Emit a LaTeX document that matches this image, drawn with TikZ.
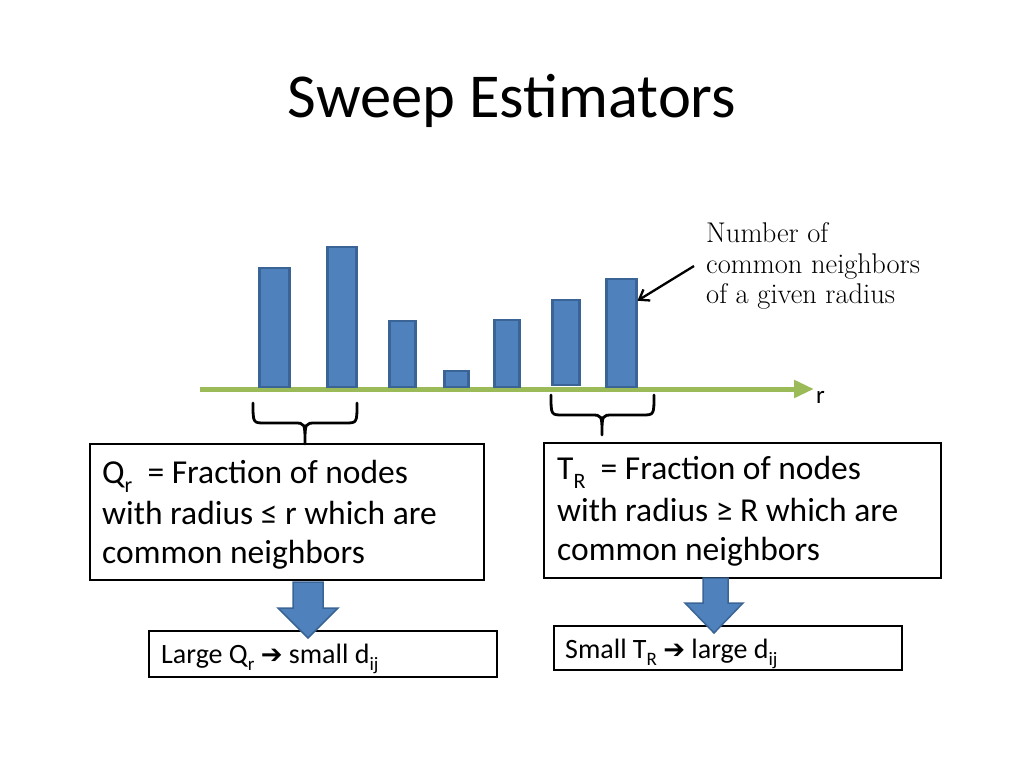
\documentclass[tikz,border=0pt]{standalone}
\usepackage{fontspec}
\setmainfont{Carlito}
\newfontfamily\annfont{Latin Modern Roman}
\newfontfamily\symfont{DejaVu Sans}
\usetikzlibrary{arrows.meta,calc}
\definecolor{barfill}{HTML}{4F81BD}
\definecolor{barline}{HTML}{3A6496}
\definecolor{axisgreen}{HTML}{9BBB59}
\newcommand{\lowsub}[1]{\raisebox{-0.28em}{\fontsize{22}{22}\selectfont #1}}
\newcommand{\smlsub}[1]{\raisebox{-0.28em}{\fontsize{19}{19}\selectfont #1}}
\begin{document}
\begin{tikzpicture}[x=1pt,y=-1pt,
  bar/.style={draw=barline, fill=barfill, line width=2.5pt, inner sep=0pt, anchor=south west},
  box/.style={draw=black, line width=2.5pt, inner sep=0pt},
  boxtext/.style={anchor=base west, inner sep=0pt, font=\fontsize{33.5}{40}\selectfont},
  smalltext/.style={anchor=base west, inner sep=0pt, font=\fontsize{28}{30}\selectfont},
  anntext/.style={anchor=base west, inner sep=0pt, font=\annfont\fontsize{28.5}{31}\selectfont},
  blockarrow/.style={draw=barline, fill=barfill, line width=1.5pt, line join=miter},
  brace/.style={draw=black, line width=2.8pt, line cap=round}]
\useasboundingbox (0,0) rectangle (1024,768);

% title
\node[anchor=base, inner sep=0pt, font=\fontsize{62.5}{62.5}\selectfont] (title) at (512,117) {Sweep Estimators};

% axis
\coordinate (ax0) at (200,389);
\coordinate (ax1) at (814,389);
\draw[axisgreen, line width=5pt, -{Triangle[length=20pt,width=17pt]}] (ax0) -- (ax1);
\node[anchor=base west, inner sep=0pt, font=\fontsize{25}{25}\selectfont] (rlab) at (816,403) {r};

% bars
\node[bar, minimum width=30pt, minimum height=119pt] (b1) at (258,388) {};
\node[bar, minimum width=29pt, minimum height=140pt] (b2) at (326,388) {};
\node[bar, minimum width=26pt, minimum height=66pt] (b3) at (388,388) {};
\node[bar, minimum width=24pt, minimum height=16pt] (b4) at (443,388) {};
\node[bar, minimum width=25pt, minimum height=67pt] (b5) at (493,388) {};
\node[bar, minimum width=27pt, minimum height=85pt] (b6) at (551,386) {};
\node[bar, minimum width=30pt, minimum height=108pt] (b7) at (605,388) {};

% annotation
\node[anntext] (ann1) at (706,242) {Number of};
\node[anntext] (ann2) at (706,273) {common neighbors};
\node[anntext] (ann3) at (706,303) {of a given radius};
\coordinate (annstart) at (694,266);
\draw[line width=2.3pt, -{Straight Barb[length=9pt,width=13pt]}] (annstart) -- ($(b7.north east)!0.21!(b7.south east)$);

% boxes
\node[box, minimum width=394pt, minimum height=136pt] (lb) at (287,512) {};
\node[box, minimum width=397pt, minimum height=135pt] (rb) at (742.5,510.5) {};

% braces
\coordinate (lbl) at (253,403);
\coordinate (lbr) at (357,403);
\draw[brace] (lbl) .. controls (253,423) .. (265,423) -- (294,423) .. controls (305,423) .. (305,444)
  (lbr) .. controls (357,423) .. (345,423) -- (316,423) .. controls (305,423) .. (305,444);
\coordinate (rbl) at (551,395);
\coordinate (rbr) at (654,395);
\draw[brace] (rbl) .. controls (551,415) .. (563,415) -- (591,415) .. controls (602,415) .. (602,435)
  (rbr) .. controls (654,415) .. (642,415) -- (613,415) .. controls (602,415) .. (602,435);

% box texts
\node[boxtext] (l1) at (102,483) {Q\lowsub{r}\ \ = Fraction of nodes};
\node[boxtext] (l2) at (102,524) {with radius ≤ r which are};
\node[boxtext] (l3) at (102,563) {common neighbors};
\node[boxtext] (r1) at (557,479) {T\lowsub{R}\ \ = Fraction of nodes};
\node[boxtext] (r2) at (557,521) {with radius ≥ R which are};
\node[boxtext] (r3) at (557,560) {common neighbors};

% bottom boxes
\node[box, minimum width=348pt, minimum height=46pt] (lbb) at (323,654) {};
\node[box, minimum width=348pt, minimum height=44pt] (rbb) at (728,648) {};

% block arrows
\draw[blockarrow] (293,582) -- (323,582) -- (323,608) -- (338,608) -- (308,638) -- (278,608) -- (293,608) -- cycle;
\draw[blockarrow] (703,578) -- (728,578) -- (728,603) -- (743,603) -- (714,633) -- (685,603) -- (703,603) -- cycle;

% bottom texts
\node[smalltext] (lt) at (161,663) {Large Q\smlsub{r} {\symfont\fontsize{26}{26}\selectfont ➔} small d\smlsub{ij}};
\node[smalltext] (rt) at (565,658) {Small T\smlsub{R} {\symfont\fontsize{26}{26}\selectfont ➔} large d\smlsub{ij}};
\end{tikzpicture}
\end{document}
